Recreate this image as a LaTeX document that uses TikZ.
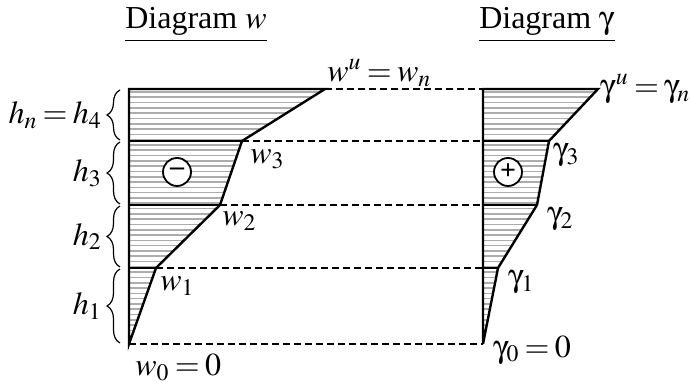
\documentclass[tikz,border=0pt]{standalone}
\usepackage{amsmath}
\usepackage{mathptmx}
\usepackage[Symbol]{upgreek}
\usepackage{fontspec}
\setmainfont{Liberation Serif}
\usetikzlibrary{positioning, decorations.pathreplacing, calc}

\begin{document}
\begin{tikzpicture}[x=0.5pt, y=-0.5pt, font=\fontsize{16}{19}\selectfont,
                    outline/.style={line width=1.2pt},
                    hatch/.style={gray!65, line width=0.8pt},
                    level/.style={line width=0.8pt, dash pattern=on 3.5pt off 2pt},
                    hbrace/.style={decorate, decoration={brace, amplitude=6.5pt}, line width=0.6pt},
                    sign/.style={circle, draw, fill=white, line width=0.9pt, minimum size=14pt,
                                 inner sep=0pt, font=\fontsize{14}{14}\selectfont\bfseries},
                    lbl/.style={inner sep=1pt}]
  \useasboundingbox (0,0) rectangle (691,383);
  \thickmuskip=3mu
  % Diagram w
  \coordinate (w0) at (129,344); \coordinate (w1) at (156,268);
  \coordinate (w2) at (220,205); \coordinate (w3) at (242,141);
  \coordinate (w4) at (325,89);
  \coordinate (la1) at (129,268); \coordinate (la2) at (129,205);
  \coordinate (la3) at (129,141); \coordinate (la4) at (129,89);
  \begin{scope}
    \clip (w0)--(w1)--(w2)--(w3)--(w4)--(la4)--cycle;
    \foreach \i in {0,...,48} \draw[hatch] (120,{92+5.3*\i}) -- (340,{92+5.3*\i});
  \end{scope}
  \draw[outline] (la4)--(w4)--(w3)--(w2)--(w1)--(w0)--cycle;
  \draw[outline] (la3)--(w3); \draw[outline] (la2)--(w2); \draw[outline] (la1)--(w1);
  \node[sign] (minus) at (177,172) {--};

  % Diagram gamma
  \coordinate (g0) at (483,344); \coordinate (g1) at (498,268);
  \coordinate (g2) at (537,205); \coordinate (g3) at (549,141);
  \coordinate (g4) at (598,89);
  \coordinate (ra1) at (483,268); \coordinate (ra2) at (483,205);
  \coordinate (ra3) at (483,141); \coordinate (ra4) at (483,89);
  \begin{scope}
    \clip (g0)--(g1)--(g2)--(g3)--(g4)--(ra4)--cycle;
    \foreach \i in {0,...,48} \draw[hatch] (475,{92+5.3*\i}) -- (610,{92+5.3*\i});
  \end{scope}
  \draw[outline] (ra4)--(g4)--(g3)--(g2)--(g1)--(g0)--cycle;
  \draw[outline] (ra3)--(g3); \draw[outline] (ra2)--(g2); \draw[outline] (ra1)--(g1);
  \node[sign] (plus) at (508,172) {+};

  % levels
  \draw[level] (w4)--(ra4); \draw[level] (w3)--(ra3); \draw[level] (w2)--(ra2);
  \draw[level] (w1)--(ra1); \draw[level] (w0)--(g0);

  % braces
  \draw[hbrace] ($(w0)+(-9,-1)$) -- ($(la1)+(-9,1)$) node[midway, left=5.5pt] {$h_1$};
  \draw[hbrace] ($(la1)+(-9,-1)$) -- ($(la2)+(-9,1)$) node[midway, left=5.5pt] {$h_2$};
  \draw[hbrace] ($(la2)+(-9,-1)$) -- ($(la3)+(-9,1)$) node[midway, left=5.5pt] {$h_3$};
  \draw[hbrace] ($(la3)+(-9,-1)$) -- ($(la4)+(-9,1)$) node[midway, left=5.5pt] {$h_n = h_4$};

  % labels
  \node (titlew) at (196,25) {\underline{Diagram $w$}};
  \node (titleg) at (547,25) {\underline{Diagram $\upgamma$}};
  \node[lbl, anchor=south west] (lw4) at (w4) {$w^u = w_n$};
  \node[lbl, anchor=north west, xshift=3pt, yshift=-3pt] (lw3) at (w3) {$w_3$};
  \node[lbl, anchor=north west, yshift=-2pt] (lw2) at (w2) {$w_2$};
  \node[lbl, anchor=north west, xshift=1pt, yshift=-3pt] (lw1) at (w1) {$w_1$};
  \node[lbl, anchor=north west, xshift=2pt, yshift=-4pt] (lw0) at (w0) {$w_0 = 0$};
  \node[lbl, anchor=west] (lg4) at (g4) {$\upgamma^u = \upgamma_n$};
  \node[lbl, anchor=north west, xshift=1pt] (lg3) at (g3) {$\upgamma_3$};
  \node[lbl, anchor=north west, xshift=4pt] (lg2) at (g2) {$\upgamma_2$};
  \node[lbl, anchor=north west, xshift=4pt] (lg1) at (g1) {$\upgamma_1$};
  \node[lbl, anchor=west, xshift=4pt, yshift=-3pt] (lg0) at (g0) {$\upgamma_0 = 0$};
\end{tikzpicture}
\end{document}
